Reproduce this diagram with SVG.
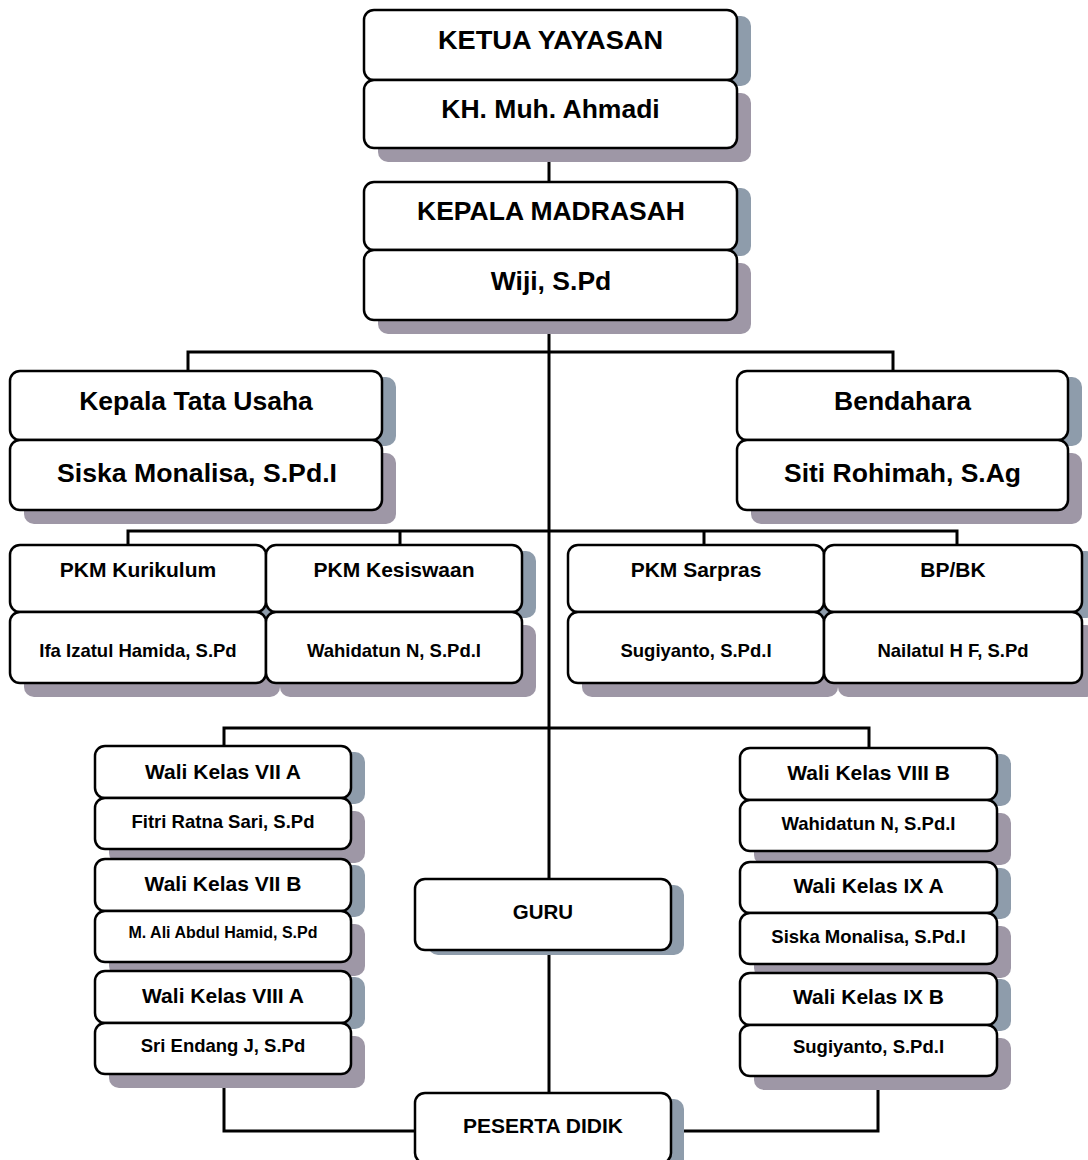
<svg xmlns="http://www.w3.org/2000/svg" width="1088" height="1160" viewBox="0 0 1088 1160">
<style>
.b{fill:#fff;stroke:#000;stroke-width:2.5}
.su{fill:#8E9CAB}
.sl{fill:#9E97A6}
.c{fill:none;stroke:#000;stroke-width:3}
text{font-family:"Liberation Sans",Arial,sans-serif;font-weight:bold;fill:#000;text-anchor:middle}
.t26{font-size:26.5px}
.t21{font-size:21px}
.t20{font-size:20.5px}
.t18{font-size:18.5px}
.t16{font-size:16px}
</style>
<rect width="1088" height="1160" fill="#fff"/>
<g id="connectors">
<path class="c" d="M549,148 V182"/>
<path class="c" d="M549,320 V879"/>
<path class="c" d="M188,371 V352 H893 V371"/>
<path class="c" d="M128,545 V531 H957 V545 M400,531 V545 M704,531 V545"/>
<path class="c" d="M224,746 V728 H869 V748"/>
<path class="c" d="M549,950 V1093"/>
<path class="c" d="M224,1074 V1131 H415"/>
<path class="c" d="M671,1131 H878 V1076"/>
</g>
<g id="shadows">
<rect class="su" x="378" y="16" width="373" height="70" rx="10"/>
<rect class="sl" x="378" y="93" width="373" height="69" rx="10"/>
<rect class="su" x="378" y="188" width="373" height="68" rx="10"/>
<rect class="sl" x="378" y="263" width="373" height="71" rx="10"/>
<rect class="su" x="24" y="377" width="372" height="69" rx="10"/>
<rect class="sl" x="24" y="453" width="372" height="71" rx="10"/>
<rect class="su" x="751" y="377" width="331" height="69" rx="10"/>
<rect class="sl" x="751" y="453" width="331" height="71" rx="10"/>
<rect class="su" x="24" y="551" width="256" height="67" rx="10"/>
<rect class="sl" x="24" y="625" width="256" height="72" rx="10"/>
<rect class="su" x="280" y="551" width="256" height="67" rx="10"/>
<rect class="sl" x="280" y="625" width="256" height="72" rx="10"/>
<rect class="su" x="582" y="551" width="256" height="67" rx="10"/>
<rect class="sl" x="582" y="625" width="256" height="72" rx="10"/>
<rect class="su" x="838" y="551" width="258" height="67" rx="10"/>
<rect class="sl" x="838" y="625" width="258" height="72" rx="10"/>
<rect class="su" x="109" y="752" width="256" height="52" rx="10"/>
<rect class="sl" x="109" y="811" width="256" height="52" rx="10"/>
<rect class="su" x="109" y="865" width="256" height="52" rx="10"/>
<rect class="sl" x="109" y="924" width="256" height="52" rx="10"/>
<rect class="su" x="109" y="977" width="256" height="52" rx="10"/>
<rect class="sl" x="109" y="1036" width="256" height="52" rx="10"/>
<rect class="su" x="754" y="754" width="257" height="52" rx="10"/>
<rect class="sl" x="754" y="813" width="257" height="52" rx="10"/>
<rect class="su" x="754" y="868" width="257" height="51" rx="10"/>
<rect class="sl" x="754" y="926" width="257" height="52" rx="10"/>
<rect class="su" x="754" y="979" width="257" height="52" rx="10"/>
<rect class="sl" x="754" y="1038" width="257" height="52" rx="10"/>
<rect class="su" x="428" y="885" width="256" height="70" rx="10"/>
<rect class="su" x="428" y="1099" width="256" height="70" rx="10"/>
</g>
<g id="ketua">
<rect class="b" x="364" y="10" width="373" height="70" rx="10"/>
<text class="t26" x="550.5" y="49" textLength="225" lengthAdjust="spacingAndGlyphs">KETUA YAYASAN</text>
</g>
<g id="ketua-nama">
<rect class="b" x="364" y="80" width="373" height="68" rx="10"/>
<text class="t26" x="550.5" y="118">KH. Muh. Ahmadi</text>
</g>
<g id="kepala">
<rect class="b" x="364" y="182" width="373" height="68" rx="10"/>
<text class="t26" x="551" y="220">KEPALA MADRASAH</text>
</g>
<g id="kepala-nama">
<rect class="b" x="364" y="250" width="373" height="70" rx="10"/>
<text class="t26" x="551" y="290">Wiji, S.Pd</text>
</g>
<g id="ktu">
<rect class="b" x="10" y="371" width="372" height="69" rx="10"/>
<text class="t26" x="196" y="410">Kepala Tata Usaha</text>
</g>
<g id="ktu-nama">
<rect class="b" x="10" y="440" width="372" height="70" rx="10"/>
<text class="t26" x="197" y="482" textLength="280" lengthAdjust="spacingAndGlyphs">Siska Monalisa, S.Pd.I</text>
</g>
<g id="bendahara">
<rect class="b" x="737" y="371" width="331" height="69" rx="10"/>
<text class="t26" x="902.5" y="410">Bendahara</text>
</g>
<g id="bendahara-nama">
<rect class="b" x="737" y="440" width="331" height="70" rx="10"/>
<text class="t26" x="902.5" y="482">Siti Rohimah, S.Ag</text>
</g>
<g id="pkm-kurikulum">
<rect class="b" x="10" y="545" width="256" height="67" rx="10"/>
<text class="t21" x="138" y="577">PKM Kurikulum</text>
</g>
<g id="pkm-kurikulum-nama">
<rect class="b" x="10" y="612" width="256" height="71" rx="10"/>
<text class="t18" x="138" y="657">Ifa Izatul Hamida, S.Pd</text>
</g>
<g id="pkm-kesiswaan">
<rect class="b" x="266" y="545" width="256" height="67" rx="10"/>
<text class="t21" x="394" y="577">PKM Kesiswaan</text>
</g>
<g id="pkm-kesiswaan-nama">
<rect class="b" x="266" y="612" width="256" height="71" rx="10"/>
<text class="t18" x="394" y="657">Wahidatun N, S.Pd.I</text>
</g>
<g id="pkm-sarpras">
<rect class="b" x="568" y="545" width="256" height="67" rx="10"/>
<text class="t21" x="696" y="577">PKM Sarpras</text>
</g>
<g id="pkm-sarpras-nama">
<rect class="b" x="568" y="612" width="256" height="71" rx="10"/>
<text class="t18" x="696" y="657">Sugiyanto, S.Pd.I</text>
</g>
<g id="bpbk">
<rect class="b" x="824" y="545" width="258" height="67" rx="10"/>
<text class="t21" x="953" y="577">BP/BK</text>
</g>
<g id="bpbk-nama">
<rect class="b" x="824" y="612" width="258" height="71" rx="10"/>
<text class="t18" x="953" y="657">Nailatul H F, S.Pd</text>
</g>
<g id="wali-7a">
<rect class="b" x="95" y="746" width="256" height="52" rx="10"/>
<text class="t21" x="223" y="779">Wali Kelas VII A</text>
</g>
<g id="wali-7a-nama">
<rect class="b" x="95" y="798" width="256" height="51" rx="10"/>
<text class="t18" x="223" y="828">Fitri Ratna Sari, S.Pd</text>
</g>
<g id="wali-7b">
<rect class="b" x="95" y="859" width="256" height="52" rx="10"/>
<text class="t21" x="223" y="891">Wali Kelas VII B</text>
</g>
<g id="wali-7b-nama">
<rect class="b" x="95" y="911" width="256" height="51" rx="10"/>
<text class="t16" x="223" y="938">M. Ali Abdul Hamid, S.Pd</text>
</g>
<g id="wali-8a">
<rect class="b" x="95" y="971" width="256" height="52" rx="10"/>
<text class="t21" x="223" y="1003">Wali Kelas VIII A</text>
</g>
<g id="wali-8a-nama">
<rect class="b" x="95" y="1023" width="256" height="51" rx="10"/>
<text class="t18" x="223" y="1052">Sri Endang J, S.Pd</text>
</g>
<g id="wali-8b">
<rect class="b" x="740" y="748" width="257" height="52" rx="10"/>
<text class="t21" x="868.5" y="780">Wali Kelas VIII B</text>
</g>
<g id="wali-8b-nama">
<rect class="b" x="740" y="800" width="257" height="51" rx="10"/>
<text class="t18" x="868.5" y="830">Wahidatun N, S.Pd.I</text>
</g>
<g id="wali-9a">
<rect class="b" x="740" y="862" width="257" height="51" rx="10"/>
<text class="t21" x="868.5" y="893">Wali Kelas IX A</text>
</g>
<g id="wali-9a-nama">
<rect class="b" x="740" y="913" width="257" height="51" rx="10"/>
<text class="t18" x="868.5" y="943">Siska Monalisa, S.Pd.I</text>
</g>
<g id="wali-9b">
<rect class="b" x="740" y="973" width="257" height="52" rx="10"/>
<text class="t21" x="868.5" y="1004">Wali Kelas IX B</text>
</g>
<g id="wali-9b-nama">
<rect class="b" x="740" y="1025" width="257" height="51" rx="10"/>
<text class="t18" x="868.5" y="1053">Sugiyanto, S.Pd.I</text>
</g>
<g id="guru">
<rect class="b" x="415" y="879" width="256" height="71" rx="10"/>
<text class="t20" x="543" y="919">GURU</text>
</g>
<g id="peserta-didik">
<rect class="b" x="415" y="1093" width="256" height="70" rx="10"/>
<text class="t21" x="543" y="1133">PESERTA DIDIK</text>
</g>
</svg>
